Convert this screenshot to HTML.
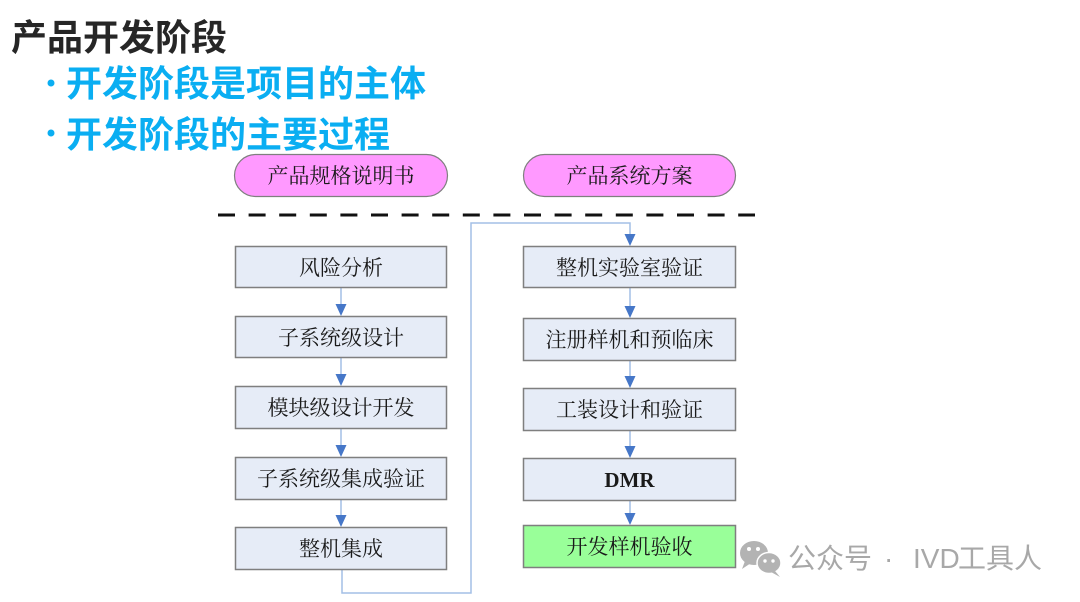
<!DOCTYPE html>
<html>
<head>
<meta charset="utf-8">
<style>
  html,body{margin:0;padding:0;background:#fff;}
  body{width:1080px;height:602px;overflow:hidden;}
  svg{display:block;}
  .sans{font-family:"Liberation Sans","Noto Sans CJK SC",sans-serif;}
  .serif{font-family:"Liberation Serif","Noto Serif CJK SC",serif;}
</style>
</head>
<body>
<svg width="1080" height="602" viewBox="0 0 1080 602" xmlns="http://www.w3.org/2000/svg">
  <rect x="0" y="0" width="1080" height="602" fill="#ffffff"/>

  <!-- Title -->
  <text class="sans" x="11" y="50" font-size="36" font-weight="bold" fill="#262626">产品开发阶段</text>

  <!-- Bullets -->
  <circle cx="51" cy="83" r="3.5" fill="#0AAEF2"/>
  <text class="sans" x="66" y="96" font-size="36" font-weight="bold" fill="#0AAEF2">开发阶段是项目的主体</text>
  <circle cx="51" cy="133" r="3.5" fill="#0AAEF2"/>
  <text class="sans" x="66" y="147" font-size="36" font-weight="bold" fill="#0AAEF2">开发阶段的主要过程</text>

  <!-- Pills -->
  <rect x="234.5" y="154.5" width="213" height="42" rx="21" ry="21" fill="#FF99FF" stroke="#7f7f7f" stroke-width="1.2"/>
  <text class="serif" x="341" y="183" font-size="21" text-anchor="middle" fill="#1a1a1a">产品规格说明书</text>
  <rect x="523.5" y="154.5" width="212" height="42" rx="21" ry="21" fill="#FF99FF" stroke="#7f7f7f" stroke-width="1.2"/>
  <text class="serif" x="629.5" y="183" font-size="21" text-anchor="middle" fill="#1a1a1a">产品系统方案</text>

  <!-- Dashed line -->
  <line x1="218" y1="215" x2="755" y2="215" stroke="#111" stroke-width="3" stroke-dasharray="17 13.6"/>

  <!-- Connectors -->
  <g stroke="#A3BFE6" stroke-width="1.5" fill="none">
    <line x1="341" y1="288" x2="341" y2="306"/>
    <line x1="341" y1="358" x2="341" y2="376"/>
    <line x1="341" y1="428" x2="341" y2="447"/>
    <line x1="341" y1="499" x2="341" y2="517"/>
    <polyline points="342,570 342,593 471,593 471,223 630,223 630,236"/>
    <line x1="630" y1="288" x2="630" y2="308"/>
    <line x1="630" y1="361" x2="630" y2="378"/>
    <line x1="630" y1="431" x2="630" y2="448"/>
    <line x1="630" y1="501" x2="630" y2="515"/>
  </g>
  <g fill="#4677C8">
    <polygon points="335.5,304 346.5,304 341,316"/>
    <polygon points="335.5,374 346.5,374 341,386"/>
    <polygon points="335.5,445 346.5,445 341,457"/>
    <polygon points="335.5,515 346.5,515 341,527"/>
    <polygon points="624.5,234 635.5,234 630,246"/>
    <polygon points="624.5,306 635.5,306 630,318"/>
    <polygon points="624.5,376 635.5,376 630,388"/>
    <polygon points="624.5,446 635.5,446 630,458"/>
    <polygon points="624.5,513 635.5,513 630,525"/>
  </g>

  <!-- Left column boxes -->
  <g fill="#E6ECF7" stroke="#7f7f7f" stroke-width="1.5">
    <rect x="235.5" y="246.5" width="211" height="41"/>
    <rect x="235.5" y="316.5" width="211" height="41"/>
    <rect x="235.5" y="386.5" width="211" height="42"/>
    <rect x="235.5" y="457.5" width="211" height="42"/>
    <rect x="235.5" y="527.5" width="211" height="42"/>
  </g>
  <g class="serif" font-size="21" text-anchor="middle" fill="#1a1a1a">
    <text x="341" y="275">风险分析</text>
    <text x="341" y="345">子系统级设计</text>
    <text x="341" y="415">模块级设计开发</text>
    <text x="341" y="486">子系统级集成验证</text>
    <text x="341" y="556">整机集成</text>
  </g>

  <!-- Right column boxes -->
  <g fill="#E6ECF7" stroke="#7f7f7f" stroke-width="1.5">
    <rect x="523.5" y="246.5" width="212" height="41"/>
    <rect x="523.5" y="318.5" width="212" height="42"/>
    <rect x="523.5" y="388.5" width="212" height="42"/>
    <rect x="523.5" y="458.5" width="212" height="42"/>
  </g>
  <rect x="523.5" y="525.5" width="212" height="42" fill="#99FF99" stroke="#7f7f7f" stroke-width="1.5"/>
  <g class="serif" font-size="21" text-anchor="middle" fill="#1a1a1a">
    <text x="629.5" y="275">整机实验室验证</text>
    <text x="629.5" y="347">注册样机和预临床</text>
    <text x="629.5" y="417">工装设计和验证</text>
    <text x="629.5" y="487" font-weight="bold">DMR</text>
    <text x="629.5" y="554">开发样机验收</text>
  </g>

  <!-- Watermark -->
  <g fill="#b3b3b3">
    <ellipse cx="754" cy="553" rx="14" ry="12"/>
    <polygon points="745,561 742,569 751,563"/>
    <ellipse cx="769" cy="563" rx="12" ry="10.5" stroke="#fff" stroke-width="1.5"/>
    <polygon points="775,571 780,577 771,572"/>
  </g>
  <g fill="#ffffff">
    <circle cx="749" cy="549" r="2"/>
    <circle cx="758" cy="549" r="2"/>
    <circle cx="765" cy="561" r="1.7"/>
    <circle cx="773" cy="561" r="1.7"/>
  </g>
  <g class="sans" font-size="28" fill="#a8a8a8">
    <text x="788" y="568">公众号</text>
    <text x="884" y="568">·</text>
    <text x="913" y="568">IVD</text>
    <text x="958" y="568">工具人</text>
  </g>
</svg>
</body>
</html>
